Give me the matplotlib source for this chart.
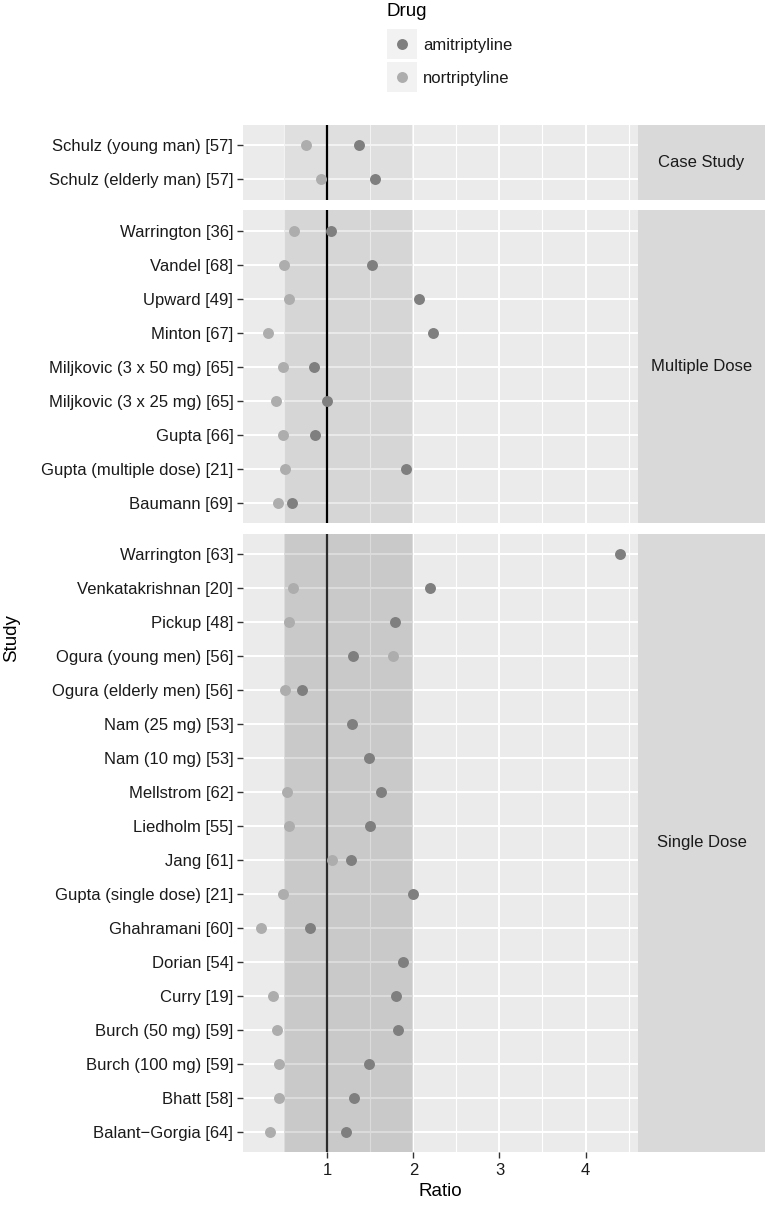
"""
Amitriptyline / nortriptyline ratio per study, faceted by study type
(ggplot-like dot plot with a shaded 0.5-2 reference band).
"""

import matplotlib
matplotlib.use("Agg")
import matplotlib.pyplot as plt
from matplotlib.patches import Rectangle

plt.rcParams["font.family"] = ["Liberation Sans", "DejaVu Sans"]

# ── Data (studies listed bottom -> top, as the y axis reads) ─────
case_studies = ["Schulz (elderly man) [57]", "Schulz (young man) [57]"]
case_ami = [1.55, 1.37]
case_nor = [0.93, 0.75]

multi_studies = [
    "Baumann [69]", "Gupta (multiple dose) [21]", "Gupta [66]",
    "Miljkovic (3 x 25 mg) [65]", "Miljkovic (3 x 50 mg) [65]", "Minton [67]",
    "Upward [49]", "Vandel [68]", "Warrington [36]",
]
multi_ami = [0.59, 1.91, 0.86, 1.00, 0.84, 2.23, 2.07, 1.52, 1.04]
multi_nor = [0.43, 0.51, 0.48, 0.40, 0.48, 0.31, 0.55, 0.50, 0.61]

single_studies = [
    "Balant\u2212Gorgia [64]", "Bhatt [58]", "Burch (100 mg) [59]",
    "Burch (50 mg) [59]", "Curry [19]", "Dorian [54]", "Ghahramani [60]",
    "Gupta (single dose) [21]", "Jang [61]", "Liedholm [55]",
    "Mellstrom [62]", "Nam (10 mg) [53]", "Nam (25 mg) [53]",
    "Ogura (elderly men) [56]", "Ogura (young men) [56]", "Pickup [48]",
    "Venkatakrishnan [20]", "Warrington [63]",
]
single_ami = [1.22, 1.31, 1.48, 1.82, 1.80, 1.88, 0.80, 1.99, 1.28, 1.50,
              1.62, 1.48, 1.29, 0.71, 1.30, 1.79, 2.19, 4.40]
single_nor = [0.33, 0.44, 0.44, 0.42, 0.37, None, 0.23, 0.48, 1.05, 0.56,
              0.53, None, None, 0.51, 1.76, 0.56, 0.60, None]

panel_names = ["Case Study", "Multiple Dose", "Single Dose"]
drug_names = ["amitriptyline", "nortriptyline"]
x_ticks = [1, 2, 3, 4]

# ── Styling ──────────────────────────────────────────────────────
W, H, DPI = 767, 1206, 100
AMI_COLOR = "#7f7f7f"
NOR_COLOR = "#adadad"
PANEL_BG = "#ebebeb"
STRIP_BG = "#d9d9d9"
KEY_BG = "#f2f2f2"
BAND_ALPHA = [0.05, 0.085, 0.14]
VLINE_COLOR = ["black", "black", "#2b2b2b"]
ROW_PX = 34
GAP_PX = 10.5
TOP_PX = 125
LEFT_PX, RIGHT_PX, STRIP_RIGHT_PX = 243, 638, 765
XLIM = (0.02, 4.61)
POINT_S = 62


def draw_panel(fig, top, studies, ami, nor, name, idx):
    n = len(studies)
    h = (n + 0.2) * ROW_PX
    ax = fig.add_axes([LEFT_PX / W, 1 - (top + h) / H,
                       (RIGHT_PX - LEFT_PX) / W, h / H])
    ax.set_facecolor(PANEL_BG)
    ax.set_xlim(*XLIM)
    ax.set_ylim(-0.6, n - 0.4)

    # grid
    for x in [0.5, 1.5, 2.5, 3.5, 4.5]:
        ax.axvline(x, color="white", lw=0.8, zorder=0.5)
    for x in x_ticks:
        ax.axvline(x, color="white", lw=1.5, zorder=0.6)
    for y in range(n):
        ax.axhline(y, color="white", lw=1.5, zorder=0.6)

    # reference band and ratio = 1 line
    ax.axvspan(0.5, 2.0, color="black", alpha=BAND_ALPHA[idx], lw=0, zorder=1)
    ax.axvline(1, color=VLINE_COLOR[idx], lw=1.6, zorder=2)

    ys = range(n)
    ax.scatter([v for v in ami if v is not None],
               [y for y, v in zip(ys, ami) if v is not None],
               s=POINT_S, color=AMI_COLOR, lw=0, zorder=3)
    ax.scatter([v for v in nor if v is not None],
               [y for y, v in zip(ys, nor) if v is not None],
               s=POINT_S, color=NOR_COLOR, lw=0, zorder=3)

    ax.set_yticks(list(ys))
    ax.set_yticklabels(studies, fontsize=12, color="#1a1a1a")
    ax.tick_params(axis="y", length=4, width=1, color="#333333", pad=3)
    ax.set_xticks(x_ticks)
    ax.tick_params(axis="x", length=4, width=1, color="#333333")
    for s in ax.spines.values():
        s.set_visible(False)

    # facet strip on the right
    sx = fig.add_axes([RIGHT_PX / W, 1 - (top + h) / H,
                       (STRIP_RIGHT_PX - RIGHT_PX) / W, h / H])
    sx.set_facecolor(STRIP_BG)
    sx.set_xticks([])
    sx.set_yticks([])
    for s in sx.spines.values():
        s.set_visible(False)
    sx.text(0.5, 0.5, name, ha="center", va="center", fontsize=12,
            color="#1a1a1a", transform=sx.transAxes)
    return ax, top + h + GAP_PX


def draw_legend(fig):
    """ggplot-style legend with grey key boxes, in pixel coordinates."""
    lx = fig.add_axes([0, 0, 1, 1], zorder=5)
    lx.set_xlim(0, W)
    lx.set_ylim(H, 0)
    lx.axis("off")
    lx.text(387, 15.5, "Drug", fontsize=13.5, ha="left", va="baseline")
    key_top = [29, 62]
    for top, label, color in zip(key_top, drug_names, [AMI_COLOR, NOR_COLOR]):
        lx.add_patch(Rectangle((387, top), 30, 30, facecolor=KEY_BG, lw=0))
        lx.scatter([402], [top + 15], s=POINT_S, color=color, lw=0)
        lx.text(423, top + 15, label, fontsize=12, ha="left",
                va="center_baseline", color="#1a1a1a")


def main():
    fig = plt.figure(figsize=(W / DPI, H / DPI), dpi=DPI)

    panels = [
        (case_studies, case_ami, case_nor),
        (multi_studies, multi_ami, multi_nor),
        (single_studies, single_ami, single_nor),
    ]
    top = TOP_PX
    axes = []
    for i, (studies, ami, nor) in enumerate(panels):
        ax, top = draw_panel(fig, top, studies, ami, nor, panel_names[i], i)
        axes.append(ax)

    # only the bottom panel keeps x tick labels
    for ax in axes[:-1]:
        ax.tick_params(axis="x", labelbottom=False, length=0)
    axes[-1].set_xticklabels([str(t) for t in x_ticks], fontsize=12,
                             color="#1a1a1a")
    axes[-1].set_xlabel("Ratio", fontsize=13.5, labelpad=4)

    fig.text(12 / W, 1 - 638 / H, "Study", rotation=90, fontsize=13.5,
             ha="center", va="center")

    draw_legend(fig)

    fig.savefig("out.png", dpi=DPI)
    plt.close(fig)


if __name__ == "__main__":
    main()
